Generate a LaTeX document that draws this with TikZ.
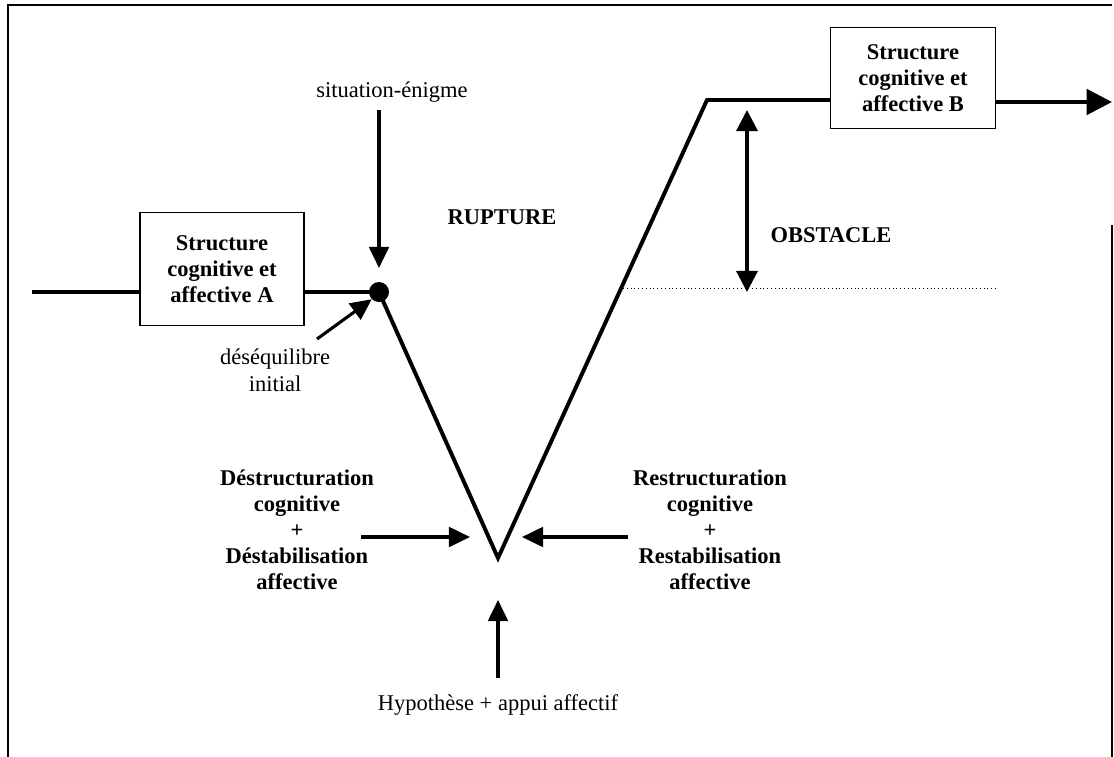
\documentclass[tikz,border=0pt]{standalone}
\usepackage{fontspec}
\setmainfont{Liberation Serif}
\usetikzlibrary{positioning,arrows.meta,calc}

\begin{document}
\begin{tikzpicture}[
    x=0.025cm, y=-0.025cm,
    font=\fontsize{16}{19}\selectfont,
    frame/.style={line width=1.4pt},
    structbox/.style={draw, line width=0.9pt, align=center, font=\fontsize{16}{18.5}\selectfont\bfseries, inner sep=0pt},
    boldlabel/.style={align=center, font=\fontsize{16}{18.5}\selectfont\bfseries},
    plainlabel/.style={align=center},
    path/.style={line width=2.8pt, line join=miter},
    arrow/.style={-{Triangle[length=15pt,width=14pt]}, line width=2.2pt},
    biarrow/.style={{Triangle[length=15pt,width=15pt]}-{Triangle[length=15pt,width=15pt]}, line width=2.2pt}
]
\useasboundingbox (0,0) rectangle (1114,757);

% frame
\draw[frame] (8,757) -- (8,5) -- (1112,5);
\draw[frame] (1112,225) -- (1112,757);

% structures
\node[structbox, minimum width=4.1cm, minimum height=2.82cm] (structA) at (222,269) {Structure\\cognitive et\\affective A};
\node[structbox, minimum width=4.12cm, minimum height=2.52cm] (structB) at (913,78) {Structure\\cognitive et\\affective B};

\coordinate (start) at (32,292);
\coordinate (vbot) at (498,558);
\coordinate (vtop) at (707,100);
\coordinate (out) at (1112,102);
\node[circle, fill=black, inner sep=0pt, minimum size=0.5cm] (dot) at (379,292) {};

\draw[path] (start) -- (structA.west |- start);
\draw[path] (structA.east |- dot) -- (dot.center) -- (vbot) -- (vtop) -- (structB.west |- vtop);
\draw[line width=2.8pt, -{Triangle[length=18pt,width=18pt]}] (structB.east |- out) -- (out);

% labels
\node[plainlabel] (enigme) at (392,92) {situation-énigme};
\node[plainlabel] (deseq) at (275,370) {déséquilibre\\initial};
\node[boldlabel] (rupture) at (502,217) {RUPTURE};
\node[boldlabel] (obstacle) at (831,235) {OBSTACLE};
\node[boldlabel] (destruct) at (297,530) {Déstructuration\\cognitive\\+\\Déstabilisation\\affective};
\node[boldlabel] (restruct) at (710,530) {Restructuration\\cognitive\\+\\Restabilisation\\affective};
\node[plainlabel] (hypo) at (498,705) {Hypothèse + appui affectif};

% arrows
\coordinate (deseqtip) at (317,339);
\coordinate (dlend) at (470,537);
\coordinate (drend) at (522,537);
\coordinate (obsbot) at (747,292);
\draw[arrow] (dot |- 0,110) -- (dot |- 0,268);
\draw[arrow] (deseqtip) -- (dot.south west);
\draw[arrow] (destruct.east |- dlend) ++(-18,0) -- (dlend);
\draw[arrow] (restruct.west |- drend) -- (drend);
\draw[arrow] (hypo.north |- 0,678) -- (vbot |- 0,600);
\draw[biarrow] (obsbot |- 0,110) -- (obsbot);
\draw[dotted, line width=0.7pt] (623,288) -- (998,288);

\end{tikzpicture}
\end{document}
